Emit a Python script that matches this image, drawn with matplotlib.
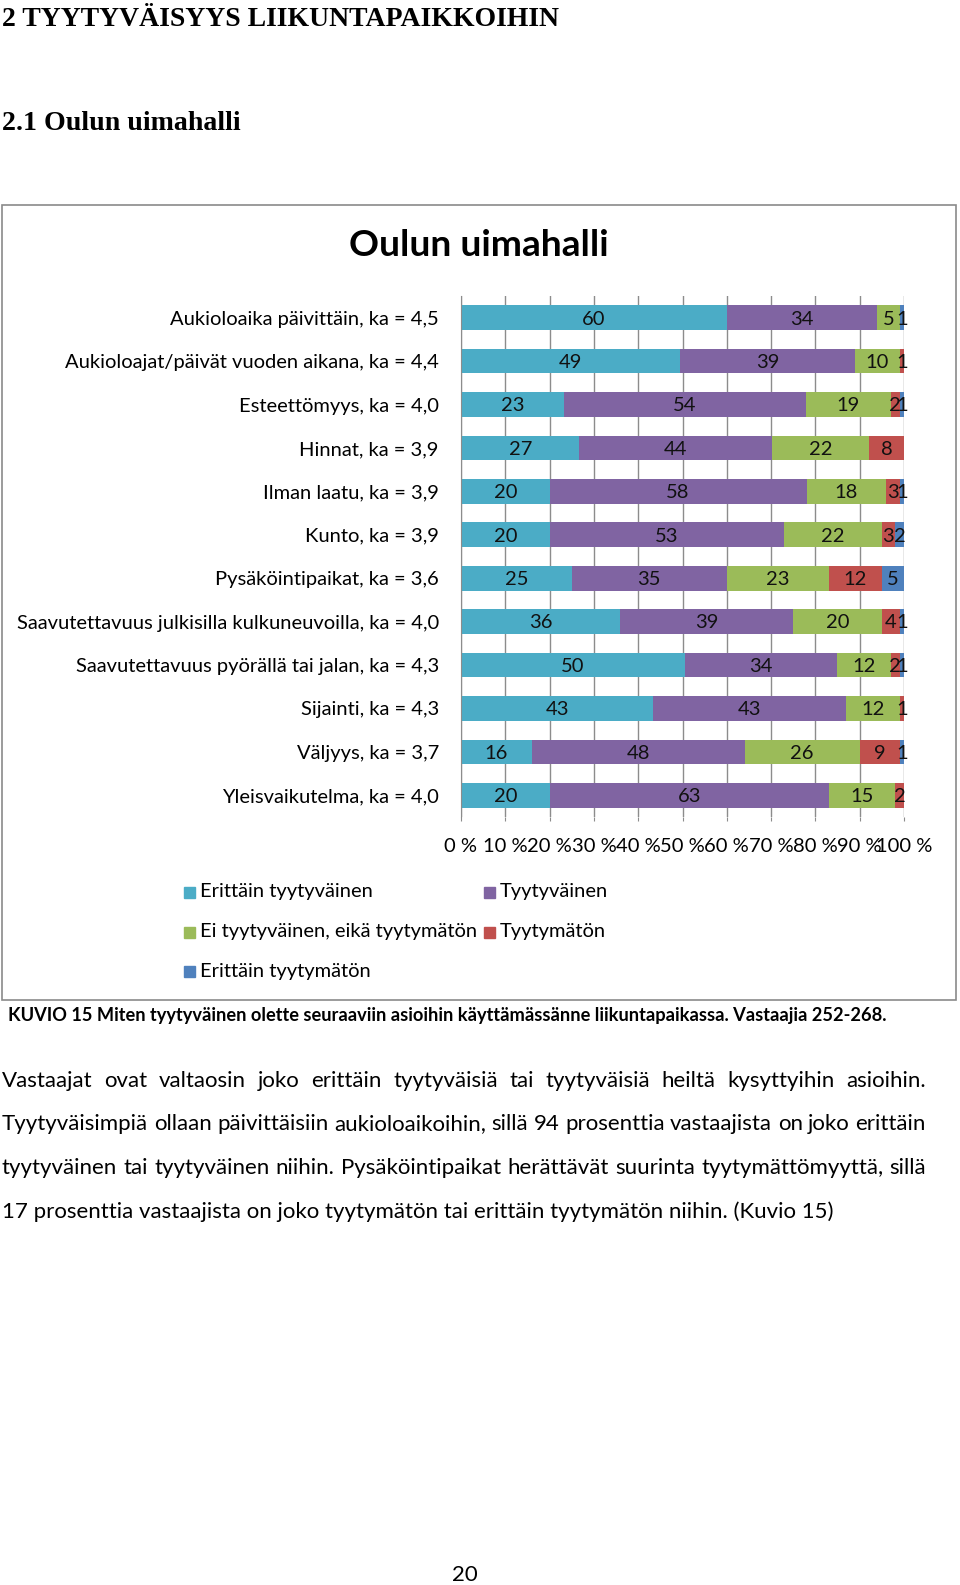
import matplotlib
matplotlib.use('Agg')
import matplotlib.pyplot as plt
import numpy as np
from matplotlib.patches import Rectangle
from matplotlib.textpath import TextPath
from matplotlib.font_manager import FontProperties

# data (percent of respondents)
categories = [
    'Aukioloaika päivittäin, ka = 4,5',
    'Aukioloajat/päivät vuoden aikana, ka = 4,4',
    'Esteettömyys, ka = 4,0',
    'Hinnat, ka = 3,9',
    'Ilman laatu, ka = 3,9',
    'Kunto, ka = 3,9',
    'Pysäköintipaikat, ka = 3,6',
    'Saavutettavuus julkisilla kulkuneuvoilla, ka = 4,0',
    'Saavutettavuus pyörällä tai jalan, ka = 4,3',
    'Sijainti, ka = 4,3',
    'Väljyys, ka = 3,7',
    'Yleisvaikutelma, ka = 4,0',
]
erittain_tyytyvainen = [60, 49, 23, 27, 20, 20, 25, 36, 50, 43, 16, 20]
tyytyvainen = [34, 39, 54, 44, 58, 53, 35, 39, 34, 43, 48, 63]
ei_kumpikaan = [5, 10, 19, 22, 18, 22, 23, 20, 12, 12, 26, 15]
tyytymaton = [0, 1, 2, 8, 3, 3, 12, 4, 2, 1, 9, 2]
erittain_tyytymaton = [1, 0, 1, 0, 1, 2, 5, 1, 1, 0, 1, 0]

series_names = ['Erittäin tyytyväinen', 'Tyytyväinen', 'Ei tyytyväinen, eikä tyytymätön',
                'Tyytymätön', 'Erittäin tyytymätön']
colors = ['#4BACC6', '#8064A2', '#9BBB59', '#C0504D', '#4F81BD']
xtick_labels = ['0 %', '10 %', '20 %', '30 %', '40 %', '50 %', '60 %', '70 %', '80 %', '90 %', '100 %']

heading = '2 TYYTYVÄISYYS LIIKUNTAPAIKKOIHIN'
subheading = '2.1 Oulun uimahalli'
chart_title = 'Oulun uimahalli'
caption = 'KUVIO 15 Miten tyytyväinen olette seuraaviin asioihin käyttämässänne liikuntapaikassa. Vastaajia 252-268.'
paragraph = [
    'Vastaajat ovat valtaosin joko erittäin tyytyväisiä tai tyytyväisiä heiltä kysyttyihin asioihin.',
    'Tyytyväisimpiä ollaan päivittäisiin aukioloaikoihin, sillä 94 prosenttia vastaajista on joko erittäin',
    'tyytyväinen tai tyytyväinen niihin. Pysäköintipaikat herättävät suurinta tyytymättömyyttä, sillä',
    '17 prosenttia vastaajista on joko tyytymätön tai erittäin tyytymätön niihin. (Kuvio 15)',
]

SANS = 'Lato'
SERIF = 'Liberation Serif'
W, H = 960, 1585


def fx(x):
    return x / W


def fy(y):
    return 1 - y / H


def text_px(s, size, family, weight='normal'):
    tp = TextPath((0, 0), s, size=size, prop=FontProperties(family=family, weight=weight))
    return tp.get_extents().width * 100 / 72


def fit(s, target, family, weight='normal'):
    return 10 * target / text_px(s, 10, family, weight)


fig = plt.figure(figsize=(9.6, 15.85), dpi=100)
renderer = fig.canvas.get_renderer()

# page headings
fig.text(fx(2), fy(20), heading, family=SERIF, weight='bold', va='center',
         fontsize=fit(heading, 556, SERIF, 'bold'))
fig.text(fx(2), fy(123), subheading, family=SERIF, weight='bold', va='center',
         fontsize=fit(subheading, 236, SERIF, 'bold'))

# chart frame
fig.patches.append(Rectangle((fx(2), fy(1000)), (956 - 2) / W, (1000 - 205) / H,
                             transform=fig.transFigure, fill=False, ec='#8a8a8a', lw=1.2))
fig.text(fx(479), fy(246), chart_title, family=SANS, weight='bold', ha='center', va='center',
         fontsize=fit(chart_title, 256, SANS, 'bold'))

base = fit(categories[0], 268, SANS)

ax = fig.add_axes([fx(461), fy(817), (904 - 461) / W, (817 - 296) / H])
data = np.array([erittain_tyytyvainen, tyytyvainen, ei_kumpikaan, tyytymaton, erittain_tyytymaton], dtype=float)
shares = data / data.sum(axis=0)
y = np.arange(len(categories))
left = np.zeros(len(categories))
for vals, sh, col in zip(data, shares, colors):
    ax.barh(y, sh, left=left, height=0.57, color=col, zorder=2)
    for i in range(len(categories)):
        if vals[i] > 0:
            ax.text(left[i] + sh[i] / 2, y[i] + 0.03, f'{vals[i]:.0f}', ha='center', va='center',
                    family=SANS, fontsize=base, color='#111111', zorder=3)
    left += sh

ax.set_xlim(0, 1)
ax.set_ylim(len(categories) - 0.5, -0.5)
ax.set_xticks(np.linspace(0, 1, 11))
ax.set_xticklabels(xtick_labels, family=SANS, fontsize=base)
ax.set_yticks(y)
ax.set_yticklabels(categories, family=SANS, fontsize=base)
ax.tick_params(axis='y', length=0, pad=16)
ax.tick_params(axis='x', length=3, pad=12, color='#8c8c8c')
ax.grid(axis='x', color='#8c8c8c', lw=1)
ax.set_axisbelow(True)
for s in ['top', 'right', 'bottom']:
    ax.spines[s].set_visible(False)
ax.spines['left'].set_color('#8c8c8c')

# legend (row-major as in the original)
leg_pos = [(184, 892), (484, 892), (184, 932), (484, 932), (184, 971)]
for (lx, ly), name, col in zip(leg_pos, series_names, colors):
    fig.patches.append(Rectangle((fx(lx), fy(ly + 6)), 11 / W, 11 / H,
                                 transform=fig.transFigure, color=col))
    fig.text(fx(lx + 16), fy(ly), name, family=SANS, fontsize=base, va='center')

fig.text(fx(8), fy(1016), caption, family=SANS, weight='bold', va='center',
         fontsize=fit(caption, 874, SANS, 'bold'))

# body text, justified except the last line
psize = fit(paragraph[-1], 828, SANS)
prop = FontProperties(family=SANS, size=psize)
line_y = [1081, 1124, 1168, 1212]
for k, (line, ly) in enumerate(zip(paragraph, line_y)):
    if k == len(paragraph) - 1:
        fig.text(fx(2), fy(ly), line, family=SANS, fontsize=psize, va='center')
        continue
    words = line.split()
    widths = [renderer.get_text_width_height_descent(w, prop, ismath=False)[0] for w in words]
    gap = (926 - 2 - sum(widths)) / (len(words) - 1)
    x = 2
    for w, wd in zip(words, widths):
        fig.text(fx(x), fy(ly), w, family=SANS, fontsize=psize, va='center')
        x += wd + gap

fig.text(fx(465), fy(1575), '20', family=SANS, fontsize=psize, ha='center', va='center')

fig.savefig('out.png', dpi=100)
